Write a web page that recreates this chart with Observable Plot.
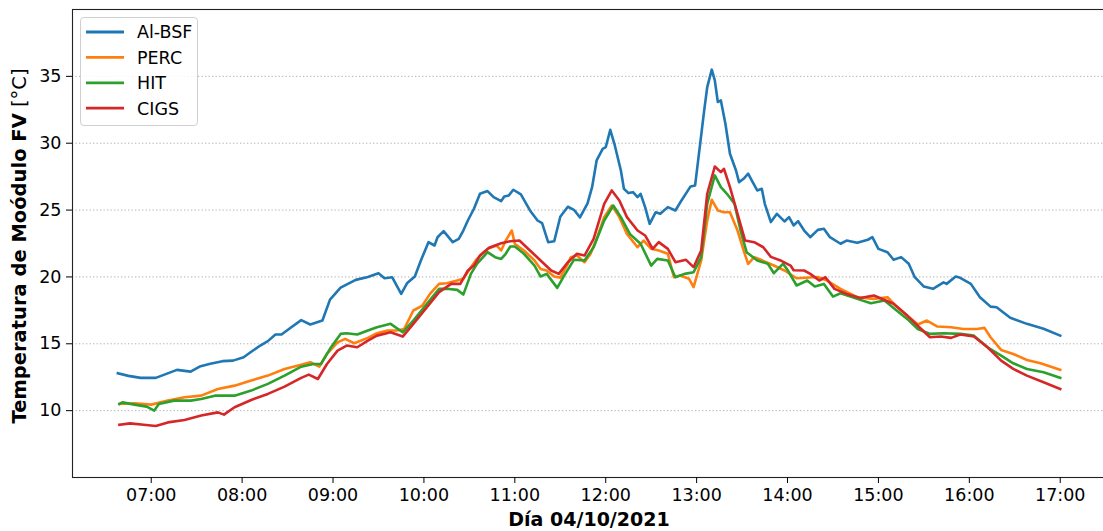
<!DOCTYPE html>
<html>
<head>
<meta charset="utf-8">
<script src="https://cdn.jsdelivr.net/npm/d3@7"></script>
<script src="https://cdn.jsdelivr.net/npm/@observablehq/plot@0.6"></script>
<style>
html,body{margin:0;padding:0;background:#fff;overflow:hidden;}
#chart{position:relative;width:1103px;height:531px;}
</style>
</head>
<body>
<div id="chart"></div>
<script>
const seriesNames = ["Al-BSF", "PERC", "HIT", "CIGS"];
const seriesColors = ["#1f77b4", "#ff7f0e", "#2ca02c", "#d62728"];
const xTickHours = [7, 8, 9, 10, 11, 12, 13, 14, 15, 16, 17];
const yTicks = [10, 15, 20, 25, 30, 35];
const xLabel = "Día 04/10/2021";
const yLabelBold = "Temperatura de Moódulo FV";
const yLabelUnit = " [°C]";

const alTimes = ["06:38","06:45","06:53","07:03","07:10","07:17","07:26","07:32","07:39","07:47","07:54","08:01","08:06","08:12","08:17","08:22","08:26","08:32","08:39","08:45","08:53","08:58","09:05","09:15","09:23","09:30","09:34","09:39","09:45","09:49","09:54","09:58","10:03","10:07","10:09","10:13","10:19","10:23","10:26","10:29","10:33","10:37","10:42","10:46","10:51","10:53","10:56","10:59","11:04","11:10","11:15","11:18","11:22","11:26","11:30","11:35","11:39","11:43","11:48","11:51","11:54","11:58","12:00","12:03","12:06","12:10","12:12","12:15","12:18","12:21","12:23","12:26","12:29","12:33","12:36","12:41","12:46","12:50","12:56","12:59","13:01","13:05","13:07","13:10","13:12","13:14","13:16","13:19","13:22","13:26","13:28","13:31","13:34","13:37","13:40","13:43","13:45","13:49","13:53","13:58","14:01","14:04","14:07","14:11","14:15","14:20","14:24","14:28","14:35","14:39","14:46","14:53","14:56","15:00","15:06","15:10","15:15","15:20","15:24","15:30","15:36","15:43","15:45","15:51","15:54","16:01","16:07","16:14","16:18","16:27","16:38","16:49","17:00"];
const alVals = [12.8,12.6,12.45,12.45,12.75,13.05,12.92,13.3,13.5,13.7,13.74,13.99,14.4,14.87,15.2,15.69,15.69,16.2,16.77,16.44,16.74,18.3,19.2,19.78,20.0,20.28,19.9,19.98,18.73,19.55,20.03,21.23,22.6,22.35,22.97,23.42,22.6,22.85,23.47,24.22,25.1,26.22,26.42,25.97,25.67,26.02,26.09,26.52,26.17,24.97,24.22,24.02,22.6,22.67,24.5,25.25,25.02,24.45,25.5,26.71,28.71,29.58,29.7,31.0,29.83,27.96,26.59,26.27,26.34,25.97,26.22,25.22,23.97,24.84,24.72,25.22,24.97,25.72,26.77,26.84,28.71,32.46,34.2,35.5,34.7,33.08,33.2,31.46,29.21,27.96,27.09,27.34,27.72,27.09,26.47,26.59,25.47,24.1,24.72,24.15,24.47,23.85,24.17,23.47,22.97,23.52,23.6,22.97,22.48,22.72,22.55,22.78,22.97,22.1,21.85,21.28,21.48,20.98,19.98,19.28,19.11,19.6,19.48,20.03,19.93,19.48,18.48,17.78,17.73,16.94,16.49,16.12,15.61];

const percTimes = ["06:39","06:49","07:00","07:11","07:22","07:33","07:44","07:55","08:06","08:17","08:28","08:39","08:45","08:51","08:56","09:03","09:08","09:14","09:23","09:29","09:36","09:42","09:47","09:53","09:59","10:04","10:10","10:15","10:22","10:26","10:31","10:35","10:42","10:48","10:51","10:54","10:58","11:00","11:06","11:13","11:17","11:21","11:26","11:30","11:35","11:37","11:41","11:46","11:50","11:54","11:59","12:04","12:09","12:14","12:21","12:25","12:30","12:35","12:41","12:45","12:49","12:55","12:58","13:03","13:07","13:10","13:14","13:18","13:22","13:27","13:31","13:34","13:38","13:42","13:51","13:58","14:06","14:20","14:26","14:35","14:46","14:57","15:06","15:12","15:19","15:26","15:32","15:39","15:48","15:56","16:05","16:10","16:14","16:21","16:29","16:38","16:47","17:00"];
const percVals = [10.5,10.55,10.45,10.75,11.0,11.12,11.62,11.87,12.25,12.62,13.12,13.44,13.62,13.29,14.24,15.11,15.37,15.04,15.44,15.79,15.99,15.99,16.11,17.49,17.86,18.73,19.48,19.53,19.73,19.86,20.73,21.35,22.1,22.35,21.98,22.72,23.47,22.48,21.98,21.23,20.6,20.48,20.03,19.95,20.98,21.48,21.6,21.1,21.73,22.85,24.47,25.34,24.47,23.22,22.22,22.72,22.1,21.98,21.73,19.98,20.1,19.86,19.23,21.23,24.22,25.77,24.97,24.84,24.84,23.47,21.98,20.98,21.48,21.3,20.85,20.48,19.9,20.0,19.73,19.11,18.48,18.36,18.48,17.78,17.11,16.44,16.74,16.29,16.24,16.11,16.11,16.19,15.49,14.54,14.24,13.79,13.54,13.05];

const hitTimes = ["06:39","06:41","06:49","06:57","07:02","07:05","07:15","07:26","07:33","07:42","07:55","08:06","08:17","08:28","08:39","08:47","08:52","08:58","09:05","09:09","09:16","09:23","09:29","09:38","09:46","09:53","10:02","10:10","10:15","10:22","10:26","10:31","10:35","10:42","10:47","10:51","10:54","10:57","11:00","11:06","11:13","11:17","11:21","11:28","11:32","11:39","11:46","11:52","11:59","12:05","12:10","12:16","12:23","12:30","12:34","12:41","12:46","12:52","12:58","13:03","13:07","13:12","13:16","13:20","13:25","13:29","13:33","13:40","13:47","13:51","13:57","14:00","14:06","14:13","14:18","14:24","14:30","14:35","14:46","14:55","15:04","15:12","15:19","15:26","15:34","15:43","15:54","16:03","16:12","16:21","16:29","16:38","16:49","17:00"];
const hitVals = [10.5,10.62,10.45,10.3,10.0,10.5,10.75,10.75,10.87,11.12,11.12,11.5,12.0,12.62,13.29,13.49,13.49,14.62,15.74,15.79,15.69,15.99,16.24,16.49,15.86,16.74,17.99,19.11,19.11,19.03,18.68,20.23,20.98,21.85,21.48,21.35,21.73,22.28,22.28,21.73,20.85,20.03,20.23,19.18,19.98,21.28,21.23,22.22,24.22,25.34,24.47,23.2,22.48,20.85,21.35,21.23,19.98,20.23,20.35,21.48,25.47,27.59,26.71,26.22,25.47,23.47,21.85,21.23,20.98,20.28,20.98,20.53,19.36,19.73,19.28,19.48,18.53,18.78,18.36,18.03,18.23,17.49,16.86,16.11,15.74,15.79,15.74,15.61,14.74,14.12,13.54,13.12,12.87,12.45];

const cigsTimes = ["06:39","06:46","06:55","07:03","07:11","07:22","07:33","07:44","07:48","07:55","08:06","08:17","08:28","08:39","08:44","08:50","08:56","09:03","09:09","09:16","09:23","09:29","09:38","09:46","09:53","10:02","10:10","10:18","10:24","10:29","10:33","10:37","10:43","10:51","10:57","11:03","11:10","11:17","11:24","11:29","11:35","11:41","11:46","11:52","11:59","12:04","12:09","12:14","12:21","12:26","12:31","12:35","12:41","12:46","12:53","12:58","13:03","13:07","13:12","13:16","13:18","13:22","13:27","13:32","13:38","13:44","13:49","13:55","14:02","14:04","14:11","14:15","14:21","14:25","14:31","14:39","14:48","14:57","15:04","15:10","15:19","15:27","15:34","15:41","15:48","15:54","16:03","16:12","16:21","16:29","16:38","16:49","17:00"];
const cigsVals = [8.95,9.05,8.95,8.85,9.12,9.3,9.63,9.87,9.7,10.25,10.8,11.25,11.8,12.45,12.69,12.37,13.49,14.49,14.87,14.74,15.24,15.61,15.86,15.54,16.49,17.73,18.86,19.48,19.48,20.48,20.85,21.6,22.18,22.52,22.67,22.72,21.98,21.23,20.48,20.23,21.1,21.73,21.6,22.85,25.47,26.47,25.72,24.47,23.47,23.1,22.1,22.6,22.1,21.1,21.28,20.73,21.98,26.22,28.26,27.84,28.09,26.71,24.72,22.72,22.6,22.22,21.5,21.25,20.85,20.5,20.48,20.23,19.73,19.98,19.11,18.73,18.43,18.61,18.28,17.99,17.11,16.24,15.49,15.54,15.44,15.69,15.55,14.74,13.74,13.12,12.62,12.12,11.62];

const hr = s => +s.slice(0, 2) + +s.slice(3, 5) / 60;
const seriesTimes = [alTimes, percTimes, hitTimes, cigsTimes];
const seriesVals = [alVals, percVals, hitVals, cigsVals];
const data = seriesNames.map((name, i) =>
  seriesTimes[i].map((t, j) => ({series: name, h: hr(t), v: seriesVals[i][j]})));

const pad = h => String(h).padStart(2, "0") + ":00";

const plot = Plot.plot({
  width: 1103,
  height: 531,
  marginLeft: 72,
  marginRight: -3,
  marginTop: 9,
  marginBottom: 54,
  style: {fontFamily: "DejaVu Sans, sans-serif", fontSize: "17.5px", color: "#000", background: "#fff"},
  x: {domain: [6.134, 17.509]},
  y: {domain: [5, 40]},
  marks: [
    Plot.gridY(yTicks, {stroke: "#b0b0b0", strokeOpacity: 1, strokeDasharray: "1.3,2.2", strokeWidth: 1}),
    ...data.map((d, i) => Plot.line(d, {x: "h", y: "v", stroke: seriesColors[i], strokeWidth: 2.6, strokeLinejoin: "round", strokeLinecap: "square"})),
    Plot.frame({stroke: "#222", strokeWidth: 1.1}),
    Plot.axisX({ticks: xTickHours, tickFormat: pad, tickSize: 6, tickPadding: 5, label: null, fontSize: 17.5}),
    Plot.axisY({ticks: yTicks, tickSize: 6, tickPadding: 5, label: null, fontSize: 17.5})
  ]
});
document.getElementById("chart").appendChild(plot);

const svg = d3.select(plot);
// axis labels
svg.append("text")
  .attr("x", 589).attr("y", 526)
  .attr("text-anchor", "middle")
  .attr("font-family", "DejaVu Sans, sans-serif")
  .attr("font-size", 19).attr("font-weight", "bold").attr("fill", "#000")
  .text(xLabel);
const yl = svg.append("text")
  .attr("transform", "translate(20,246) rotate(-90)")
  .attr("text-anchor", "middle")
  .attr("dominant-baseline", "middle")
  .attr("font-family", "DejaVu Sans, sans-serif")
  .attr("font-size", 19.5).attr("fill", "#000");
yl.append("tspan").attr("font-weight", "bold").text(yLabelBold);
yl.append("tspan").attr("font-weight", "normal").text(yLabelUnit);

// legend
const lg = svg.append("g").attr("text-anchor", "start");
lg.append("rect").attr("x", 80.5).attr("y", 17.5).attr("width", 117).attr("height", 108)
  .attr("rx", 3.5).attr("fill", "#fff").attr("fill-opacity", 0.85).attr("stroke", "#d0d0d0").attr("stroke-width", 1);
seriesNames.forEach((name, i) => {
  const y = 32 + i * 25.4;
  lg.append("line").attr("x1", 86).attr("x2", 124).attr("y1", y).attr("y2", y)
    .attr("stroke", seriesColors[i]).attr("stroke-width", 2.8);
  lg.append("text").attr("x", 137).attr("y", y).attr("dy", "0.36em")
    .attr("text-anchor", "start")
    .attr("font-family", "DejaVu Sans, sans-serif").attr("font-size", 17.5).attr("fill", "#000")
    .text(name);
});
</script>
</body>
</html>
